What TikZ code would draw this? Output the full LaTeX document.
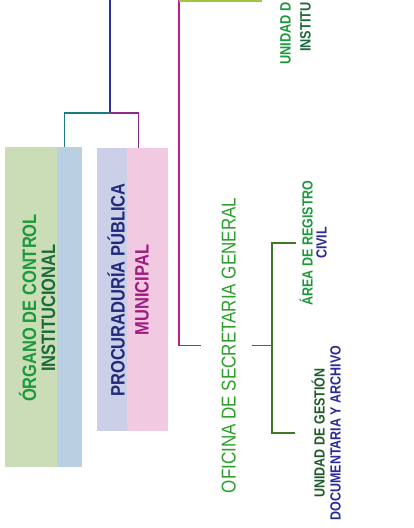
\documentclass[tikz,border=0pt]{standalone}
\usepackage{fontspec}
\setmainfont{Liberation Sans}
\newfontfamily\condsans[FakeStretch=0.85]{Liberation Sans}
\definecolor{cblue}{HTML}{2E3192}
\definecolor{cteal}{HTML}{1E7B7B}
\definecolor{cpurp}{HTML}{8E2A8E}
\definecolor{cmag}{HTML}{B5218C}
\definecolor{ctopg}{HTML}{9CC63F}
\definecolor{cgreen}{HTML}{3C7A28}
\definecolor{tgreen}{HTML}{1A9A3A}
\definecolor{tdkgreen}{HTML}{1A6A3A}
\definecolor{tnavy}{HTML}{1E2A7A}
\definecolor{tmag}{HTML}{A01A80}
\definecolor{tofi}{HTML}{2AA02A}
\definecolor{tblue}{HTML}{2A2A9A}
\definecolor{tugd}{HTML}{1E5A28}
\definecolor{fgreen}{HTML}{CADDB6}
\definecolor{fblue}{HTML}{B8D0E2}
\definecolor{flav}{HTML}{CBCFE8}
\definecolor{fpink}{HTML}{F1CAE2}
\begin{document}
\begin{tikzpicture}[x=1pt,y=1pt,
  conn/.style={line width=1.4pt},
  boxnode/.style={inner sep=0pt, anchor=north west},
  lbl/.style={rotate=90, inner sep=0pt, anchor=south, align=center},
  bigbold/.style={font=\condsans\bfseries\fontsize{19.4}{19}\selectfont},
  smallbold/.style={font=\condsans\bfseries\fontsize{14.7}{14}\selectfont}
]
\clip (0,0) rectangle (414,-528);
\fill[white] (0,0) rectangle (414,-528);

% boxes
\node[boxnode, minimum width=77pt, minimum height=320pt, fill=fgreen,
  path picture={\fill[fblue] ([xshift=52pt]path picture bounding box.north west) rectangle (path picture bounding box.south east);}]
  (ocibox) at (5,-147) {};
\node[boxnode, minimum width=71pt, minimum height=283pt, fill=flav,
  path picture={\fill[fpink] ([xshift=30pt]path picture bounding box.north west) rectangle (path picture bounding box.south east);}]
  (ppmbox) at (97,-148) {};

% labels
\node[lbl, bigbold] (oci) at (55.5,-308) {{\color{tgreen}ÓRGANO DE CONTROL}\\{\color{tdkgreen}INSTITUCIONAL}};
\node[lbl, font=\condsans\bfseries\fontsize{19.4}{24}\selectfont] (ppm) at (149,-290) {{\color{tnavy}PROCURADURÍA PÚBLICA}\\{\color{tmag}MUNICIPAL}};
\node[lbl, font=\condsans\fontsize{20}{20}\selectfont, text=tofi] (osg) at (236,-345.5) {OFICINA DE SECRETARIA GENERAL};
\node[lbl, smallbold] (arc) at (327,-243) {{\color{tgreen}ÁREA DE REGISTRO}\\{\color{tblue}CIVIL}};
\node[lbl, font=\condsans\bfseries\fontsize{14.7}{16}\selectfont] (ugd) at (341,-433) {{\color{tugd}UNIDAD DE GESTIÓN}\\{\color{tblue}DOCUMENTARIA Y ARCHIVO}};
\node[rotate=90, inner sep=0pt, anchor=south west, font=\condsans\bfseries\fontsize{15}{18}\selectfont, text=tgreen] (uni1) at (291,-65) {UNIDAD D};
\node[rotate=90, inner sep=0pt, anchor=south west, font=\condsans\bfseries\fontsize{15}{18}\selectfont, text=tdkgreen] (uni2) at (311,-52) {INSTITU};

% connectors
\coordinate (top1) at (110,0);
\coordinate (j1) at (110,-113);
\draw[conn, cblue] (top1) -- (j1);
\draw[conn, cteal] (j1) -| ([xshift=20.5pt]ocibox.north);
\draw[conn, cpurp] (j1) -| ([xshift=5.5pt]ppmbox.north);

\coordinate (top2) at (179,0);
\draw[conn, cmag] (top2) |- ([xshift=-20pt]osg.north);
\coordinate (topl) at (179,-1.2);
\coordinate (topr) at (262,-1.2);
\draw[line width=2.5pt, ctopg] (topl) -- (topr);

\draw[conn, cgreen] ([xshift=16pt]osg.south) -- ([xshift=36pt]osg.south) coordinate (g1);
\draw[conn, cgreen] ([xshift=-3pt]arc.north) -| (g1) |- ([xshift=-16pt]ugd.north);
\end{tikzpicture}
\end{document}
